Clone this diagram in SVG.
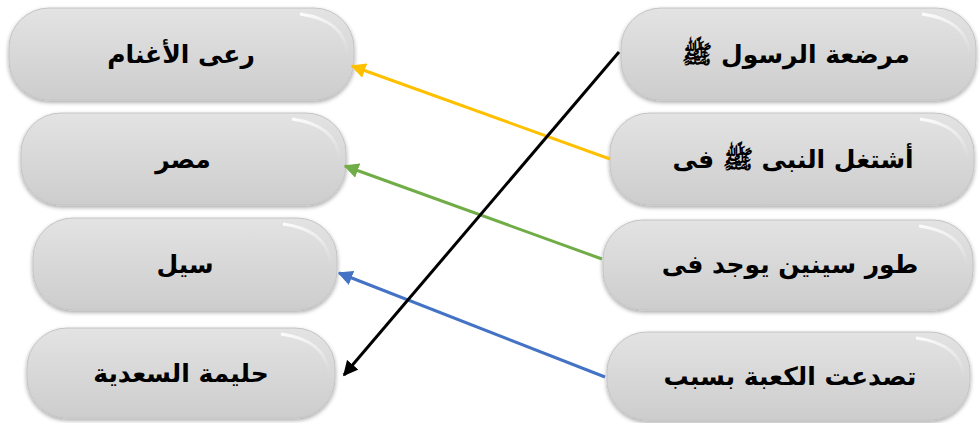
<svg xmlns="http://www.w3.org/2000/svg" width="980" height="423" viewBox="0 0 980 423">
<defs>
<linearGradient id="g" x1="0" y1="0" x2="0" y2="1">
<stop offset="0" stop-color="#e3e3e3"/>
<stop offset="0.5" stop-color="#d8d8d8"/>
<stop offset="1" stop-color="#cdcdcd"/>
</linearGradient>
<linearGradient id="hl" x1="0" y1="0" x2="1" y2="1">
<stop offset="0" stop-color="#ffffff" stop-opacity="0.9"/>
<stop offset="1" stop-color="#ffffff" stop-opacity="0"/>
</linearGradient>
<filter id="sh" x="-10%" y="-20%" width="120%" height="140%">
<feGaussianBlur in="SourceAlpha" stdDeviation="2"/>
<feOffset dx="0" dy="2" result="b"/>
<feComponentTransfer><feFuncA type="linear" slope="0.35"/></feComponentTransfer>
<feMerge><feMergeNode/><feMergeNode in="SourceGraphic"/></feMerge>
</filter>
<marker id="ay" viewBox="0 0 10 10" refX="9" refY="5" markerWidth="5" markerHeight="5" orient="auto-start-reverse"><path d="M0,0 L10,5 L0,10 z" fill="#FFC000"/></marker>
<marker id="ag" viewBox="0 0 10 10" refX="9" refY="5" markerWidth="5" markerHeight="5" orient="auto-start-reverse"><path d="M0,0 L10,5 L0,10 z" fill="#70AD47"/></marker>
<marker id="ab" viewBox="0 0 10 10" refX="9" refY="5" markerWidth="5" markerHeight="5" orient="auto-start-reverse"><path d="M0,0 L10,5 L0,10 z" fill="#4472C4"/></marker>
<marker id="ak" viewBox="0 0 10 10" refX="9" refY="5" markerWidth="5" markerHeight="5" orient="auto-start-reverse"><path d="M0,0 L10,5 L0,10 z" fill="#000000"/></marker>
</defs>
<style>
.box{fill:url(#g);stroke:#c4c4c4;stroke-width:1;filter:url(#sh)}
.hi{fill:none;stroke:url(#hl);stroke-width:3}
.t{font-family:"DejaVu Sans","Noto Sans",sans-serif;font-size:25px;font-weight:bold;fill:#000;text-anchor:middle;dominant-baseline:central}
.c{fill:none;stroke-width:3}
</style>
<rect width="980" height="423" fill="#ffffff"/>
<g id="l1"><rect class="box" x="9" y="8" width="345" height="92" rx="40"/><path class="hi" d="M300,14 Q345,20 348,55"/><text class="t" x="181" y="54" direction="rtl">رعى الأغنام</text></g>
<g id="l2"><rect class="box" x="21" y="113" width="325" height="92" rx="40"/><path class="hi" d="M292,119 Q337,125 340,160"/><text class="t" x="183" y="159" direction="rtl">مصر</text></g>
<g id="l3"><rect class="box" x="33" y="218" width="304" height="92" rx="40"/><path class="hi" d="M283,224 Q328,230 331,265"/><text class="t" x="185" y="264" direction="rtl">سيل</text></g>
<g id="l4"><rect class="box" x="27" y="328" width="308" height="90" rx="40"/><path class="hi" d="M281,334 Q326,340 329,374"/><text class="t" x="181" y="373" direction="rtl">حليمة السعدية</text></g>
<g id="r1"><rect class="box" x="621" y="8" width="355" height="92" rx="40"/><path class="hi" d="M922,14 Q967,20 970,55"/><text class="t" x="796" y="54" direction="rtl">مرضعة الرسول ﷺ</text></g>
<g id="r2"><rect class="box" x="610" y="113" width="364" height="92" rx="40"/><path class="hi" d="M920,119 Q965,125 968,160"/><text class="t" x="793" y="159" direction="rtl">أشتغل النبى ﷺ فى</text></g>
<g id="r3"><rect class="box" x="603" y="220" width="370" height="90" rx="40"/><path class="hi" d="M919,226 Q964,232 967,266"/><text class="t" x="790" y="264" direction="rtl">طور سينين يوجد فى</text></g>
<g id="r4"><rect class="box" x="607" y="332" width="363" height="88" rx="40"/><path class="hi" d="M916,338 Q961,344 964,377"/><text class="t" x="790" y="376" direction="rtl">تصدعت الكعبة بسبب</text></g>
<g id="connectors">
<line class="c" x1="610" y1="159" x2="352" y2="66" stroke="#FFC000" marker-end="url(#ay)"/>
<line class="c" x1="602" y1="259" x2="345" y2="166" stroke="#70AD47" marker-end="url(#ag)"/>
<line class="c" x1="605" y1="377" x2="339" y2="273" stroke="#4472C4" marker-end="url(#ab)"/>
<line class="c" x1="619" y1="52" x2="344" y2="375" stroke="#000000" marker-end="url(#ak)"/>
</g>
</svg>
